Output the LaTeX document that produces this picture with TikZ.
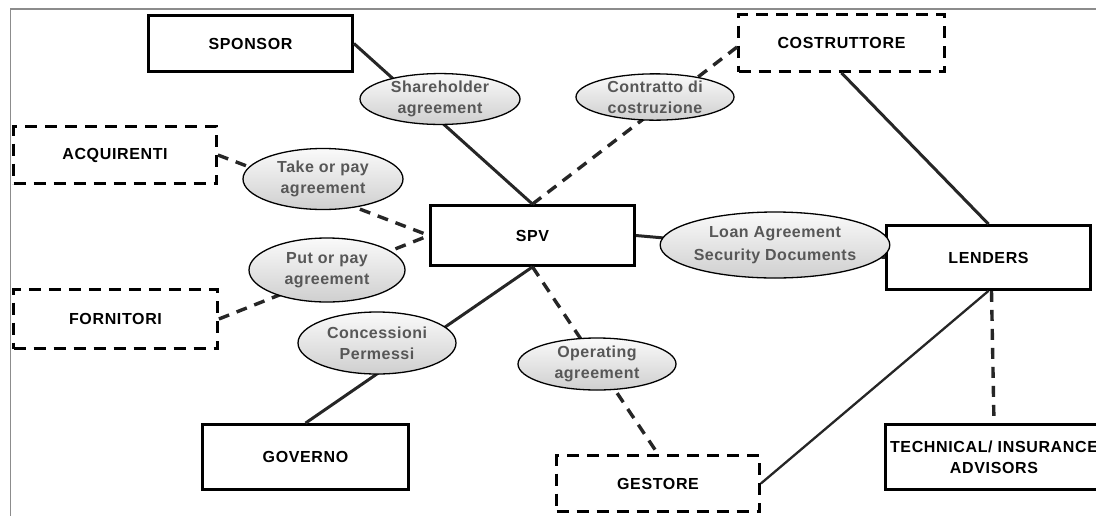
\documentclass[tikz,border=0pt]{standalone}
\usepackage{fontspec}
\setmainfont{Liberation Sans}
\newfontfamily\boxfont[LetterSpace=4]{Liberation Sans}
\newfontfamily\lblfont[LetterSpace=3]{Liberation Sans}
\usetikzlibrary{shapes.geometric}

\definecolor{framegray}{HTML}{8C8C8C}
\definecolor{lbltext}{HTML}{575757}
\definecolor{shadetop}{HTML}{FAFAFA}
\definecolor{shadebot}{HTML}{CFCFCF}

\tikzset{
  party/.style={rectangle, draw=black, line width=2.8pt, fill=white,
    inner sep=0pt, align=center,
    font=\boxfont\bfseries\fontsize{16}{21}\selectfont},
  solidbox/.style={party},
  dashbox/.style={party, dash pattern=on 12pt off 8pt},
  contract/.style={ellipse, draw=black, line width=1.3pt, inner sep=0pt,
    top color=shadetop, bottom color=shadebot, text=lbltext, align=center,
    font=\lblfont\bfseries\fontsize{16}{21}\selectfont},
  link/.style={line width=3pt, black!85},
  dashlink/.style={link, line width=3.4pt, dash pattern=on 11pt off 8pt},
}

\begin{document}
\begin{tikzpicture}[x=1pt,y=-1pt]
  \useasboundingbox (0,0) rectangle (1096,515);

  % outer frame
  \draw[framegray, line width=1.5pt] (10.5,530) -- (10.5,9) -- (1110,9);

  % parties
  \node[solidbox, minimum width=204pt, minimum height=56pt] (sponsor) at (250.5,43.5) {SPONSOR};
  \node[dashbox, minimum width=206pt, minimum height=57pt] (costruttore) at (841.5,43) {COSTRUTTORE};
  \node[dashbox, minimum width=203pt, minimum height=57pt] (acquirenti) at (115,155) {ACQUIRENTI};
  \node[solidbox, minimum width=204pt, minimum height=60pt] (spv) at (532.5,235.5) {SPV};
  \node[solidbox, minimum width=204pt, minimum height=64pt] (lenders) at (988.5,257.5) {LENDERS};
  \node[dashbox, minimum width=204pt, minimum height=59pt] (fornitori) at (115.5,319) {FORNITORI};
  \node[solidbox, minimum width=206pt, minimum height=65pt] (governo) at (305.5,457) {GOVERNO};
  \node[dashbox, minimum width=203pt, minimum height=56pt] (gestore) at (658,483.5) {GESTORE};
  \node[solidbox, minimum width=217pt, minimum height=65pt] (advisors) at (994,457)
    {TECHNICAL/ INSURANCE\\ADVISORS};

  % relationships
  \draw[link] (sponsor.east) -- (spv.north);
  \draw[dashlink] ([yshift=-4pt]costruttore.west) -- (spv.north);
  \draw[dashlink] (acquirenti.east) -- (spv.west);
  \draw[dashlink] (fornitori.east) -- (spv.west);
  \draw[link] (governo.north) -- (spv.south);
  \draw[dashlink] (spv.south) -- (gestore.north);
  \draw[link] (spv.east) -- (lenders.west);
  \draw[link] (costruttore.south) -- (lenders.north);
  \draw[link, line width=2.3pt] (gestore.east) -- (lenders.south);
  \draw[dashlink] ([xshift=3pt]lenders.south) -- (advisors.north);

  % contracts
  \node[contract, minimum width=160pt, minimum height=47pt] (shareholder) at (440,99)
    {Shareholder\\agreement};
  \node[contract, minimum width=158pt, minimum height=44pt] (contratto) at (655,97)
    {Contratto di\\costruzione};
  \node[contract, minimum width=160pt, minimum height=61pt] (takepay) at (323,179)
    {Take or pay\\agreement};
  \node[contract, minimum width=156pt, minimum height=64pt] (putpay) at (327,270)
    {Put or pay\\agreement};
  \node[contract, minimum width=198pt, minimum height=66pt,
        font=\lblfont\bfseries\fontsize{16}{23}\selectfont] (loan) at (775,245)
    {Loan Agreement\\Security Documents};
  \node[contract, minimum width=158pt, minimum height=62pt] (concessioni) at (377,343)
    {Concessioni\\Permessi};
  \node[contract, minimum width=158pt, minimum height=52pt] (operating) at (597,364)
    {Operating\\agreement};
\end{tikzpicture}
\end{document}
